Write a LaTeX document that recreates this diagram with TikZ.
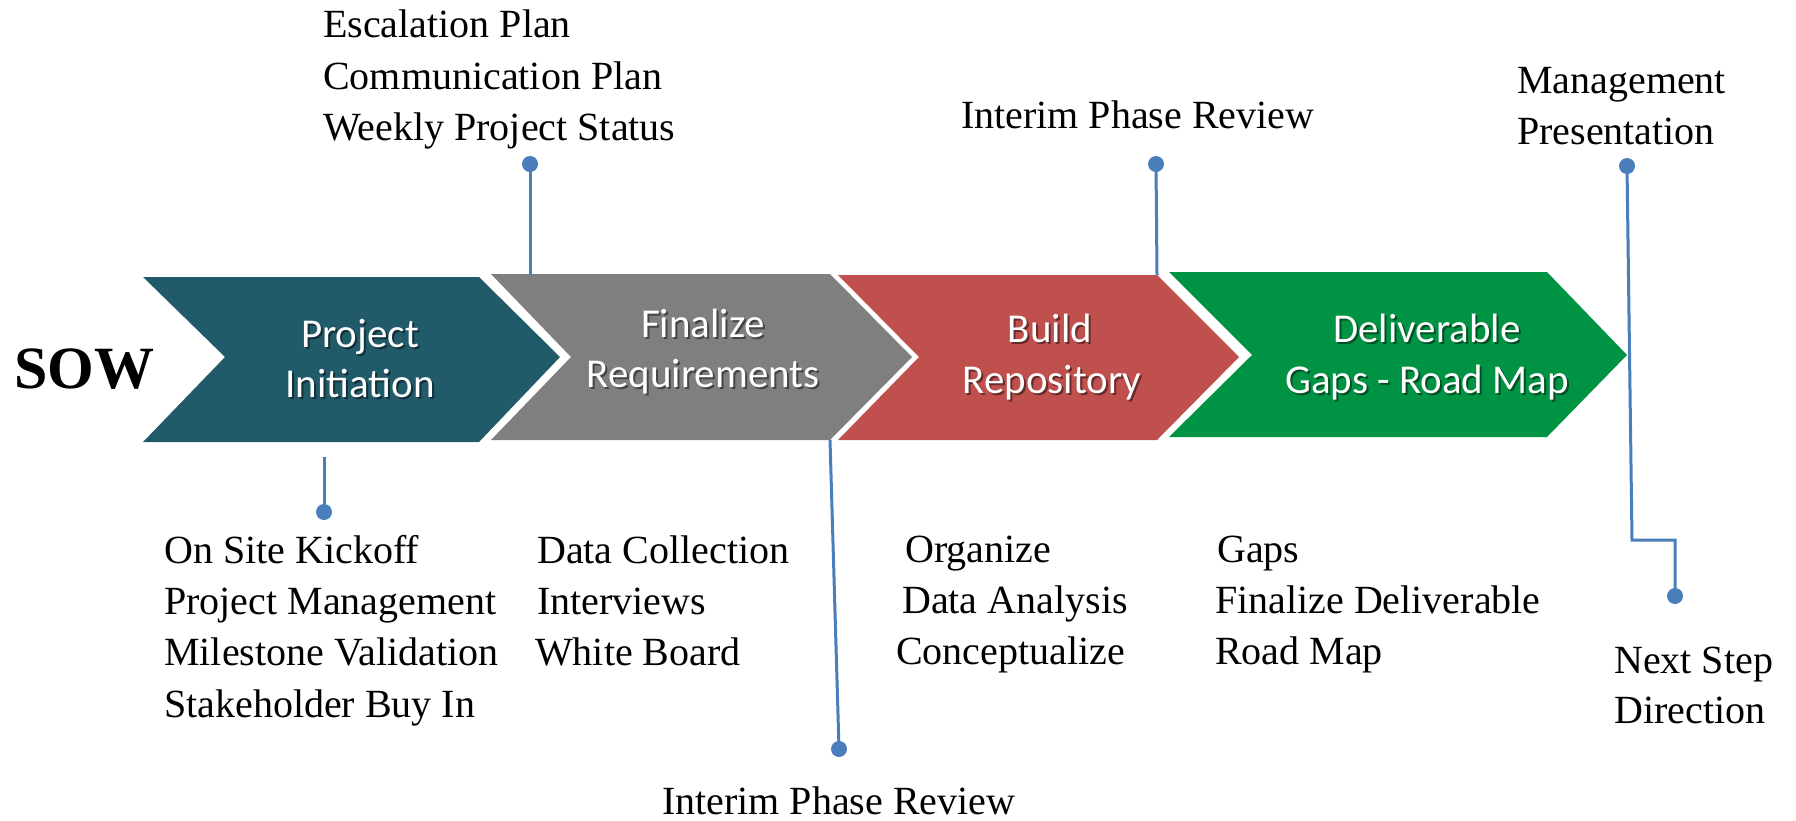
\documentclass[tikz,border=0pt]{standalone}
\usepackage{fontspec}
\setmainfont{Liberation Serif}
\newfontfamily\chevfont{Carlito}
\definecolor{chevteal}{HTML}{215A69}
\definecolor{chevgray}{HTML}{7F7F7F}
\definecolor{chevred}{HTML}{C0504D}
\definecolor{chevgreen}{HTML}{009343}
\definecolor{lineblue}{HTML}{4A7EBB}
\tikzset{
  lbl/.style={anchor=base west, inner sep=0pt, font=\fontsize{40}{48}\selectfont},
  ctext/.style={anchor=base, inner sep=0pt, text=white, font=\chevfont\fontsize{41}{50}\selectfont},
  cshadow/.style={anchor=base, inner sep=0pt, text=black, opacity=0.45, font=\chevfont\fontsize{41}{50}\selectfont},
  dotmark/.style={circle, fill=lineblue, draw=none, inner sep=0pt, minimum size=16pt},
  conn/.style={draw=lineblue, line width=3pt},
}
\newcommand{\chevlabel}[4]{%
  \node[cshadow] (#1s) at (#2+2,#3+2) {#4};
  \node[ctext] (#1) at (#2,#3) {#4};
}
\begin{document}
\begin{tikzpicture}[x=1pt,y=-1pt]
\useasboundingbox (0,0) rectangle (1796,820);
% SOW
\node[anchor=base west, inner sep=0pt, font=\bfseries\fontsize{60}{66}\selectfont] (sow) at (14,388) {SOW};
% chevrons
\fill[chevteal] (143,277) coordinate (tealTL) -- (479,277) -- (560,357) -- (479,442) -- (143,442) -- (225,357) -- cycle;
\fill[chevgray] (491,274) -- (830,274) -- (912,357) -- (830,440) coordinate (grayBR) -- (491,440) -- (571,357) -- cycle;
\fill[chevred] (838,275) -- (1157,275) coordinate (redTR) -- (1239,357) -- (1157,440) -- (838,440) -- (919,357) -- cycle;
\fill[chevgreen] (1169,272) -- (1547,272) -- (1627,355) coordinate (greenTip) -- (1547,437) -- (1169,437) -- (1252,355) -- cycle;
% chevron labels
\chevlabel{pa}{360}{347}{Project}
\chevlabel{pb}{360}{397}{Initiation}
\chevlabel{fa}{703}{337}{Finalize}
\chevlabel{fb}{703}{387}{Requirements}
\chevlabel{ba}{1050}{342}{Build}
\chevlabel{bb}{1052}{393}{Repository}
\chevlabel{da}{1427}{342}{Deliverable}
\chevlabel{db}{1427}{393}{Gaps - Road Map}
% connectors
\coordinate (grayTop) at (530,275);
\node[dotmark] (d1) at (530,164) {};
\draw[conn] (d1.center) -- (grayTop);
\node[dotmark] (d2) at (1156,164) {};
\draw[conn] (d2.center) -- (redTR);
\coordinate (tealBelow) at (324,457);
\node[dotmark] (d3) at (324,512) {};
\draw[conn] (tealBelow) -- (d3.center);
\node[dotmark] (d4) at (839,749) {};
\draw[conn] (grayBR) -- (d4.center);
\node[dotmark] (d5) at (1627,166) {};
\node[dotmark] (d6) at (1675,596) {};
\coordinate (bend) at (1632,540);
\draw[conn] (d5.center) -- (bend) -- (d6.center |- bend) -- (d6.center);
% annotations top
\node[lbl] (t1) at (323,37) {Escalation Plan};
\node[lbl] (t2) at (323,89) {Communication Plan};
\node[lbl] (t3) at (323,140) {Weekly Project Status};
\node[lbl] (t4) at (961,128) {Interim Phase Review};
\node[lbl] (t5) at (1517,93) {Management};
\node[lbl] (t6) at (1517,144) {Presentation};
% annotations bottom
\node[lbl] (b1) at (164,563) {On Site Kickoff};
\node[lbl] (b2) at (164,614) {Project Management};
\node[lbl] (b3) at (164,665) {Milestone Validation};
\node[lbl] (b4) at (164,717) {Stakeholder Buy In};
\node[lbl] (c1) at (537,563) {Data Collection};
\node[lbl] (c2) at (537,614) {Interviews};
\node[lbl] (c3) at (535,665) {White Board};
\node[lbl] (e1) at (905,562) {Organize};
\node[lbl] (e2) at (902,613) {Data Analysis};
\node[lbl] (e3) at (896,664) {Conceptualize};
\node[lbl] (g1) at (1217,562) {Gaps};
\node[lbl] (g2) at (1215,613) {Finalize Deliverable};
\node[lbl] (g3) at (1215,664) {Road Map};
\node[lbl, text depth=0pt] (ir) at (662,814) {Interim Phase Review};
\node[lbl] (n1) at (1614,673) {Next Step};
\node[lbl] (n2) at (1614,723) {Direction};
\end{tikzpicture}
\end{document}
